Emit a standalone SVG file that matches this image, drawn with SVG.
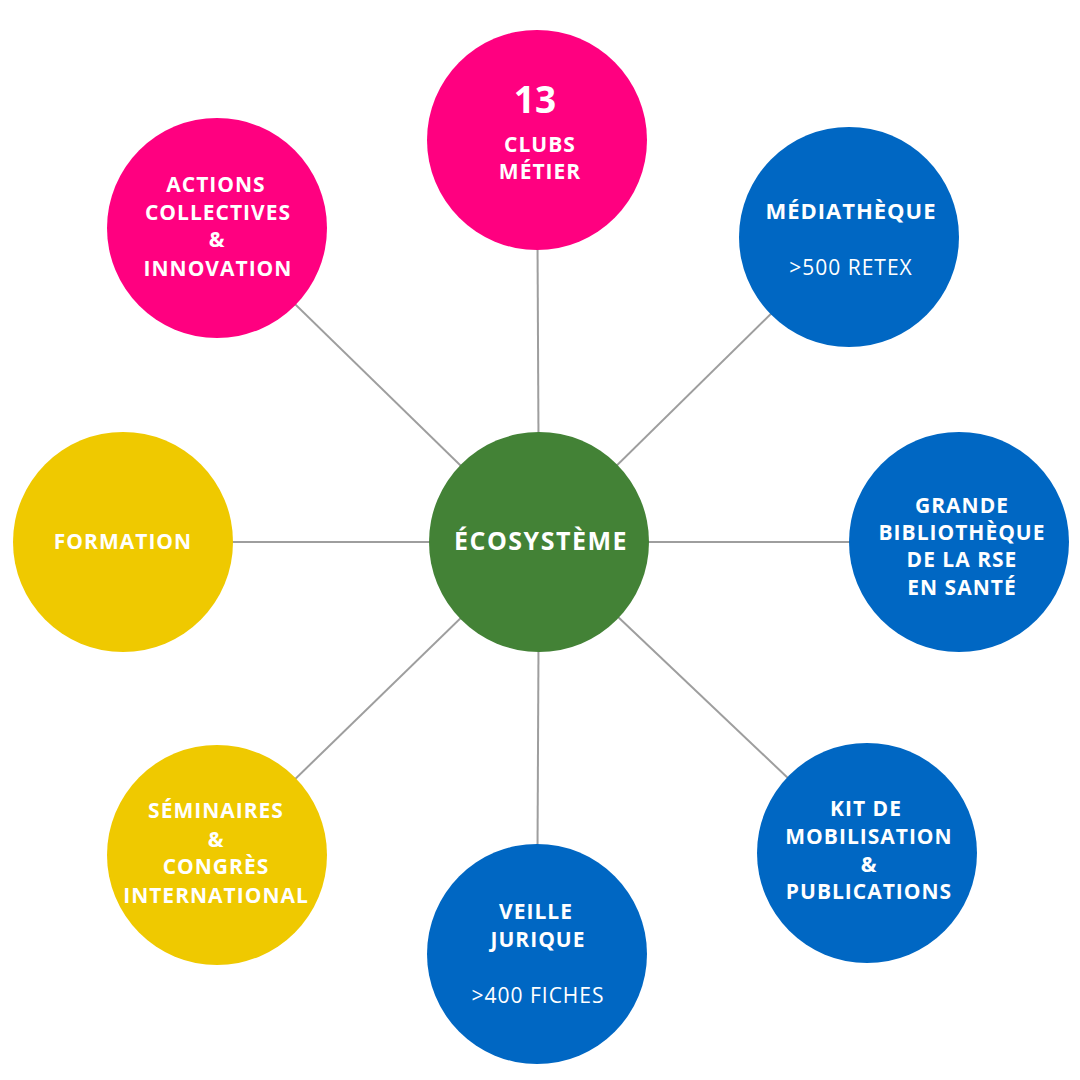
<svg xmlns="http://www.w3.org/2000/svg" width="1080" height="1080" viewBox="0 0 1080 1080">
<style>
.pink{fill:#FF0080}
.blue{fill:#0067C3}
.yellow{fill:#EFC900}
.green{fill:#438236}
.t{font-family:"Open Sans","Liberation Sans",sans-serif;font-weight:700;font-size:21px;fill:#fff;text-anchor:middle;letter-spacing:1px}
.r{font-weight:400}
.conn line{stroke:#9E9E9E;stroke-width:2}
</style>
<rect width="1080" height="1080" fill="#fff"/>
<g id="connectors" class="conn">
<line x1="539" y1="542" x2="537" y2="140"/>
<line x1="539" y1="542" x2="217" y2="228"/>
<line x1="539" y1="542" x2="849" y2="237"/>
<line x1="539" y1="542" x2="123" y2="542"/>
<line x1="539" y1="542" x2="959" y2="542"/>
<line x1="539" y1="542" x2="217" y2="855"/>
<line x1="539" y1="542" x2="537" y2="954"/>
<line x1="539" y1="542" x2="867" y2="853"/>
</g>
<g id="node-ecosysteme">
<circle class="green" cx="539" cy="542" r="110"/>
<text class="t" x="541" y="550" style="font-size:25px;letter-spacing:1.5px">ÉCOSYSTÈME</text>
</g>
<g id="node-clubs">
<circle class="pink" cx="537" cy="140" r="110"/>
<text class="t" x="535" y="113" style="font-size:37px;letter-spacing:0">13</text>
<text class="t" x="540" y="152">CLUBS</text>
<text class="t" x="540" y="179">MÉTIER</text>
</g>
<g id="node-actions">
<circle class="pink" cx="217" cy="228" r="110"/>
<text class="t" x="216" y="192">ACTIONS</text>
<text class="t" x="218" y="220">COLLECTIVES</text>
<text class="t" x="217" y="247">&amp;</text>
<text class="t" x="218" y="276">INNOVATION</text>
</g>
<g id="node-mediatheque">
<circle class="blue" cx="849" cy="237" r="110"/>
<text class="t" x="851" y="219" style="font-size:22px">MÉDIATHÈQUE</text>
<text class="t r" x="851" y="275">&gt;500 RETEX</text>
</g>
<g id="node-formation">
<circle class="yellow" cx="123" cy="542" r="110"/>
<text class="t" x="123" y="549">FORMATION</text>
</g>
<g id="node-bibliotheque">
<circle class="blue" cx="959" cy="542" r="110"/>
<text class="t" x="962" y="513">GRANDE</text>
<text class="t" x="962" y="540">BIBLIOTHÈQUE</text>
<text class="t" x="962" y="567">DE LA RSE</text>
<text class="t" x="962" y="595">EN SANTÉ</text>
</g>
<g id="node-seminaires">
<circle class="yellow" cx="217" cy="855" r="110"/>
<text class="t" x="216" y="818">SÉMINAIRES</text>
<text class="t" x="216" y="847">&amp;</text>
<text class="t" x="216" y="874">CONGRÈS</text>
<text class="t" x="216" y="903">INTERNATIONAL</text>
</g>
<g id="node-veille">
<circle class="blue" cx="537" cy="954" r="110"/>
<text class="t" x="536" y="919">VEILLE</text>
<text class="t" x="538" y="947">JURIQUE</text>
<text class="t r" x="538" y="1003">&gt;400 FICHES</text>
</g>
<g id="node-kit">
<circle class="blue" cx="867" cy="853" r="110"/>
<text class="t" x="866" y="816">KIT DE</text>
<text class="t" x="869" y="844">MOBILISATION</text>
<text class="t" x="869" y="872">&amp;</text>
<text class="t" x="869" y="899">PUBLICATIONS</text>
</g>
</svg>
